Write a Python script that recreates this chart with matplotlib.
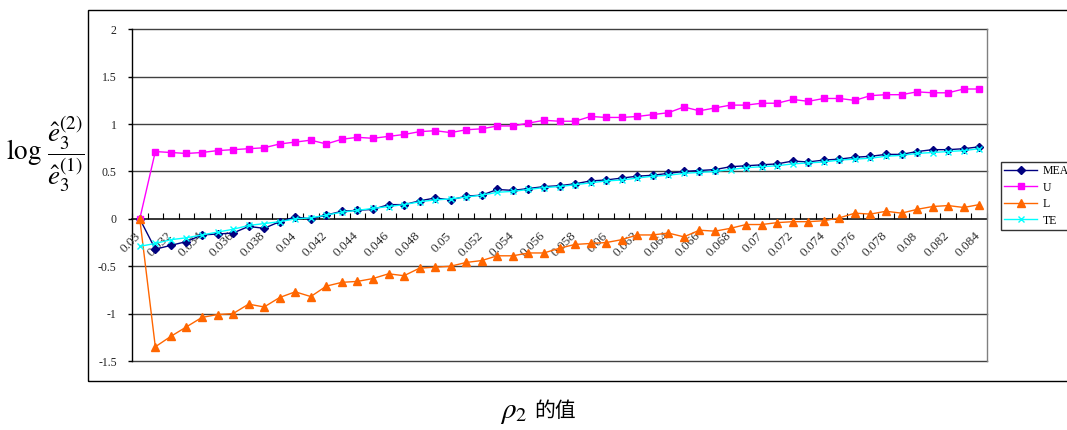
import matplotlib
matplotlib.use("Agg")
import matplotlib.pyplot as plt
from matplotlib.patches import Rectangle
from matplotlib.transforms import offset_copy

# rho_2 values (categories)
rho2 = [0.030, 0.031, 0.032, 0.033, 0.034, 0.035, 0.036, 0.037, 0.038, 0.039,
        0.040, 0.041, 0.042, 0.043, 0.044, 0.045, 0.046, 0.047, 0.048, 0.049,
        0.050, 0.051, 0.052, 0.053, 0.054, 0.055, 0.056, 0.057, 0.058, 0.059,
        0.060, 0.061, 0.062, 0.063, 0.064, 0.065, 0.066, 0.067, 0.068, 0.069,
        0.070, 0.071, 0.072, 0.073, 0.074, 0.075, 0.076, 0.077, 0.078, 0.079,
        0.080, 0.081, 0.082, 0.083, 0.084]

mean_vals = [0.00, -0.32, -0.28, -0.24, -0.17, -0.16, -0.15, -0.08, -0.10, -0.03,
             0.02, 0.00, 0.04, 0.08, 0.09, 0.10, 0.15, 0.15, 0.19, 0.22,
             0.20, 0.24, 0.25, 0.31, 0.30, 0.32, 0.34, 0.35, 0.37, 0.40,
             0.41, 0.43, 0.45, 0.46, 0.48, 0.50, 0.51, 0.52, 0.55, 0.56,
             0.57, 0.58, 0.61, 0.60, 0.62, 0.63, 0.65, 0.66, 0.68, 0.68,
             0.71, 0.73, 0.73, 0.74, 0.76]

u_vals = [0.00, 0.71, 0.70, 0.69, 0.70, 0.72, 0.73, 0.74, 0.75, 0.79,
          0.81, 0.83, 0.79, 0.84, 0.86, 0.85, 0.87, 0.89, 0.92, 0.93,
          0.91, 0.94, 0.95, 0.98, 0.98, 1.01, 1.04, 1.03, 1.03, 1.08,
          1.07, 1.07, 1.08, 1.10, 1.12, 1.18, 1.14, 1.17, 1.20, 1.20,
          1.22, 1.22, 1.26, 1.24, 1.27, 1.27, 1.25, 1.30, 1.31, 1.31,
          1.34, 1.33, 1.33, 1.37, 1.37]

l_vals = [0.00, -1.35, -1.24, -1.14, -1.04, -1.01, -1.00, -0.90, -0.93, -0.83,
          -0.77, -0.82, -0.71, -0.67, -0.66, -0.63, -0.58, -0.60, -0.52, -0.51,
          -0.50, -0.46, -0.44, -0.39, -0.39, -0.36, -0.36, -0.31, -0.27, -0.26,
          -0.25, -0.22, -0.17, -0.17, -0.15, -0.19, -0.12, -0.13, -0.10, -0.06,
          -0.06, -0.04, -0.03, -0.03, -0.02, 0.01, 0.06, 0.05, 0.08, 0.06,
          0.10, 0.13, 0.14, 0.12, 0.15]

te_vals = [-0.29, -0.26, -0.22, -0.20, -0.17, -0.14, -0.11, -0.07, -0.05, -0.03,
           0.00, 0.01, 0.04, 0.07, 0.09, 0.11, 0.13, 0.15, 0.18, 0.20,
           0.21, 0.23, 0.25, 0.28, 0.29, 0.31, 0.33, 0.34, 0.36, 0.38,
           0.40, 0.41, 0.43, 0.45, 0.46, 0.48, 0.49, 0.50, 0.52, 0.54,
           0.55, 0.56, 0.58, 0.59, 0.60, 0.62, 0.63, 0.64, 0.66, 0.67,
           0.69, 0.70, 0.71, 0.72, 0.74]

y_ticks = [-1.5, -1, -0.5, 0, 0.5, 1, 1.5, 2]
y_tick_labels = ["-1.5", "-1", "-0.5", "0", "0.5", "1", "1.5", "2"]

plt.rcParams["mathtext.fontset"] = "stix"
SERIF = "Liberation Serif"

W, H = 1067, 430
fig = plt.figure(figsize=(W / 100, H / 100), dpi=100)

# outer chart frame
fig.patches.append(Rectangle((87.5 / W, 1 - 380.5 / H), (1080 - 87.5) / W, (380.5 - 9.5) / H,
                             transform=fig.transFigure, fill=False, edgecolor="black",
                             linewidth=1.0, zorder=0))

ax = fig.add_axes([132 / W, 1 - 361 / H, (987 - 132) / W, (361 - 29.3) / H])
n = len(rho2)
x = list(range(n))
ax.set_xlim(-0.5, n - 0.5)
ax.set_ylim(-1.5, 2)

# horizontal gridlines
for yv in y_ticks:
    if yv != 0:
        ax.axhline(yv, color="#404040", linewidth=1.0, zorder=1, clip_on=False)

ax.spines["top"].set_visible(False)
ax.spines["left"].set_color("black")
ax.spines["left"].set_linewidth(1.0)
ax.spines["right"].set_color("#808080")
ax.spines["right"].set_linewidth(1.0)
ax.spines["bottom"].set_position(("data", 0))
ax.spines["bottom"].set_color("black")
ax.spines["bottom"].set_linewidth(1.1)
ax.spines["bottom"].set_zorder(2)

ax.set_yticks(y_ticks)
ax.set_yticklabels(y_tick_labels, fontfamily=SERIF, fontsize=8.5, color="#222222")
ax.tick_params(axis="y", direction="out", length=3, width=1, pad=8)

# category boundary ticks on the zero axis
ax.set_xticks([i - 0.5 for i in range(n + 1)])
ax.set_xticklabels([])
ax.tick_params(axis="x", direction="in", length=4, width=0.8, color="black")

# rotated category labels, every second value
lab_tr = offset_copy(ax.transData, fig=fig, x=-5, y=-11, units="dots")
for i in range(0, n, 2):
    ax.text(i, 0, f"{rho2[i]:g}", transform=lab_tr, rotation=45, rotation_mode="anchor",
            ha="right", va="top", fontfamily=SERIF, fontsize=9.5, color="#333333")

ax.plot(x, mean_vals, color="#000080", linewidth=1.0, marker="D", markersize=4.5,
        markerfacecolor="#000080", markeredgecolor="#000080", label="MEAN", zorder=3)
ax.plot(x, u_vals, color="#FF00FF", linewidth=1.0, marker="s", markersize=5,
        markerfacecolor="#FF00FF", markeredgecolor="#FF00FF", label="U", zorder=3)
ax.plot(x, l_vals, color="#FF6600", linewidth=1.0, marker="^", markersize=6,
        markerfacecolor="#FF6600", markeredgecolor="#FF6600", label="L", zorder=3)
ax.plot(x, te_vals, color="#00FFFF", linewidth=1.0, marker="x", markersize=5,
        markeredgewidth=1.0, label="TE", zorder=4)

leg = fig.legend(loc="upper left", bbox_to_anchor=(1000.5 / W, 1 - 161.5 / H),
                 bbox_transform=fig.transFigure, borderaxespad=0,
                 prop={"family": SERIF, "size": 8.5}, frameon=True, fancybox=False,
                 edgecolor="black", handlelength=2.8, handletextpad=0.5,
                 labelspacing=0.38, borderpad=0.3)
leg.get_frame().set_linewidth(1.0)

# axis titles
fig.text(45 / W, 1 - 154 / H,
         r"$\log\,\dfrac{\hat{e}_3^{(2)}}{\hat{e}_3^{(1)}}$",
         ha="center", va="center", fontsize=19.5)
fig.text(528 / W, 1 - 412 / H, r"$\rho_2$", ha="right", va="center", fontsize=21)
fig.text(534 / W, 1 - 411 / H, "的值", ha="left", va="center", fontsize=15,
         family=["Noto Sans CJK TC", "DejaVu Sans"])

fig.savefig("out.png", dpi=100)
